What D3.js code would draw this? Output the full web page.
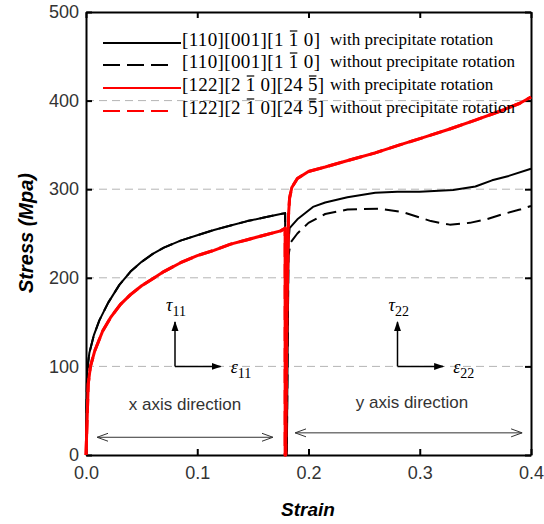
<!DOCTYPE html>
<html>
<head>
<meta charset="utf-8">
<script src="https://cdn.jsdelivr.net/npm/d3@7"></script>
<style>
  body { margin: 0; background: #fff; }
  text { font-family: "Liberation Sans", Arial, sans-serif; }
</style>
</head>
<body>
<svg width="544" height="524"></svg>
<script>
// tick values
const xTicks = [0, 0.1, 0.2, 0.3, 0.4];
const yTicks = [0, 100, 200, 300, 400, 500];
const gridValues = [100, 200, 300, 400];

// [strain, stress]
const black_with = [[0,0],[0.0005,60],[0.001,95],[0.003,115],[0.007,135],[0.012,152],[0.02,172],[0.03,192],[0.04,207],
  [0.05,218],[0.06,227],[0.07,234],[0.085,242],[0.1,248],[0.115,254],[0.13,259],[0.145,264],[0.16,268],[0.175,272],
  [0.179,273],[0.179,0],[0.1805,0],[0.182,240],[0.183,256],[0.19,266],[0.2,276],[0.204,280],[0.215,285],[0.235,291],
  [0.26,296],[0.28,297],[0.3,297],[0.33,299],[0.35,303],[0.365,310],[0.38,315],[0.4,323]];
const black_without = [[0,0],[0.0005,60],[0.001,95],[0.003,115],[0.007,135],[0.012,152],[0.02,172],[0.03,192],[0.04,207],
  [0.05,218],[0.06,227],[0.07,234],[0.085,242],[0.1,248],[0.115,254],[0.13,259],[0.145,264],[0.16,268],[0.175,272],
  [0.179,273],[0.179,0],[0.1805,0],[0.182,225],[0.184,240],[0.19,250],[0.2,262],[0.215,272],[0.235,277],[0.264,278],
  [0.285,274],[0.3,268],[0.31,264],[0.327,260],[0.345,262],[0.36,266],[0.375,272],[0.39,277],[0.4,281]];
const red_with = [[0,0],[0.001,40],[0.002,80],[0.004,100],[0.008,118],[0.015,140],[0.022,155],[0.031,170],[0.04,181],
  [0.05,191],[0.06,199],[0.07,207],[0.085,217],[0.1,225],[0.115,231],[0.13,238],[0.145,243],[0.16,248],[0.175,253],
  [0.179,256],[0.179,0],[0.1795,0],[0.1805,150],[0.182,270],[0.183,290],[0.185,302],[0.19,312],[0.2,320],[0.215,325],
  [0.237,333],[0.26,341],[0.282,350],[0.305,359],[0.327,368],[0.35,378],[0.372,388],[0.39,397],[0.4,404]];
const red_without = [[0,0],[0.001,40],[0.002,80],[0.004,100],[0.008,118],[0.015,140],[0.022,155],[0.031,170],[0.04,181],
  [0.05,191],[0.06,199],[0.07,207],[0.085,217],[0.1,225],[0.115,231],[0.13,238],[0.145,243],[0.16,248],[0.175,253],
  [0.179,256],[0.179,0],[0.1795,0],[0.1805,150],[0.182,270],[0.183,290],[0.185,302],[0.19,312],[0.2,320],[0.215,325],
  [0.237,333],[0.26,341],[0.282,350],[0.305,359],[0.327,368],[0.35,378],[0.372,388],[0.39,397],[0.4,404]];

// legend
const legendKeys = ["[110][001][1 1 0]", "[110][001][1 1 0]", "[122][2 1 0][24 5]", "[122][2 1 0][24 5]"];
const legendBars = [[13], [13], [8, 16], [8, 16]];   // chars with an overbar
const legendDesc = ["with precipitate rotation", "without precipitate rotation",
                    "with precipitate rotation", "without precipitate rotation"];

const svg = d3.select("svg");
const x = d3.scaleLinear().domain([0, 0.4]).range([86, 531]);
const y = d3.scaleLinear().domain([0, 500]).range([455, 12]);

// markers
const defs = svg.append("defs");
defs.append("marker").attr("id", "headFill")
  .attr("viewBox", "0 0 10 10").attr("refX", 9).attr("refY", 5)
  .attr("markerWidth", 10).attr("markerHeight", 10).attr("markerUnits", "userSpaceOnUse")
  .attr("orient", "auto")
  .append("path").attr("d", "M0,1.5L10,5L0,8.5Z").attr("fill", "#000");
defs.append("marker").attr("id", "headOpen")
  .attr("viewBox", "0 0 12 10").attr("refX", 11).attr("refY", 5)
  .attr("markerWidth", 12).attr("markerHeight", 10).attr("markerUnits", "userSpaceOnUse")
  .attr("orient", "auto-start-reverse")
  .append("path").attr("d", "M0,1L11,5L0,9").attr("fill", "none").attr("stroke", "#333").attr("stroke-width", 1);

// grid
svg.selectAll(".grid").data(gridValues).join("line")
  .attr("class", "grid")
  .attr("x1", x(0)).attr("x2", x(0.4))
  .attr("y1", d => y(d)).attr("y2", d => y(d))
  .attr("stroke", "#b4b4b4").attr("stroke-width", 1)
  .attr("stroke-dasharray", "8,5");

// axes
function styleAxis(g) {
  g.select(".domain").attr("stroke", "#000").attr("stroke-width", 2);
  g.selectAll(".tick line").attr("stroke", "#000").attr("stroke-width", 2);
  g.selectAll(".tick text").attr("fill", "#333").style("font-size", "18px")
    .style("font-family", "'Liberation Sans', Arial, sans-serif");
}
svg.append("g").attr("transform", `translate(0,${y(0)})`)
  .call(d3.axisBottom(x).tickValues(xTicks).tickFormat(d3.format(".1f"))
    .tickSizeInner(-6).tickSizeOuter(0).tickPadding(11))
  .call(styleAxis);
svg.append("g").attr("transform", `translate(0,${y(500)})`)
  .call(d3.axisTop(x).tickValues(xTicks).tickFormat("").tickSizeInner(-6).tickSizeOuter(0))
  .call(styleAxis);
svg.append("g").attr("transform", `translate(${x(0)},0)`)
  .call(d3.axisLeft(y).tickValues(yTicks).tickSizeInner(-6).tickSizeOuter(0).tickPadding(7))
  .call(styleAxis);
svg.append("g").attr("transform", `translate(${x(0.4)},0)`)
  .call(d3.axisRight(y).tickValues(yTicks).tickFormat("").tickSizeInner(-6).tickSizeOuter(0))
  .call(styleAxis);

// curves
const line = d3.line().x(d => x(d[0])).y(d => y(d[1]));
const series = [
  {data: black_without, color: "#000", dash: "14,7", w: 2},
  {data: black_with, color: "#000", dash: null, w: 2},
  {data: red_without, color: "#f00", dash: "14,7", w: 3},
  {data: red_with, color: "#f00", dash: null, w: 3}
];
series.forEach(s => {
  svg.append("path").datum(s.data)
    .attr("d", line)
    .attr("fill", "none")
    .attr("stroke", s.color)
    .attr("stroke-width", s.w)
    .attr("stroke-linejoin", "round")
    .attr("stroke-dasharray", s.dash);
});

// stress / strain direction arrows
function tauEps(sx, lab) {
  svg.append("line")
    .attr("x1", x(sx)).attr("y1", y(100)).attr("x2", x(sx)).attr("y2", y(150))
    .attr("stroke", "#000").attr("stroke-width", 1.5).attr("marker-end", "url(#headFill)");
  svg.append("line")
    .attr("x1", x(sx)).attr("y1", y(100)).attr("x2", x(sx + 0.041)).attr("y2", y(100))
    .attr("stroke", "#000").attr("stroke-width", 1.5).attr("marker-end", "url(#headFill)");
  const t = svg.append("text").attr("x", x(sx) - 9).attr("y", y(163))
    .style("font-family", "'Liberation Serif', 'Times New Roman', serif").style("font-size", "18px");
  t.append("tspan").text("τ").style("font-style", "italic");
  t.append("tspan").text(lab).attr("dy", 5).style("font-size", "14px");
  const e = svg.append("text").attr("x", x(sx + 0.05)).attr("y", y(93))
    .style("font-family", "'Liberation Serif', 'Times New Roman', serif").style("font-size", "18px");
  e.append("tspan").text("ε").style("font-style", "italic");
  e.append("tspan").text(lab).attr("dy", 5).style("font-size", "14px");
}
tauEps(0.08, "11");
tauEps(0.28, "22");

svg.append("text").attr("x", x(0.089)).attr("y", y(51)).attr("text-anchor", "middle")
  .attr("fill", "#333").style("font-size", "17px").text("x axis direction");
svg.append("text").attr("x", x(0.293)).attr("y", y(53)).attr("text-anchor", "middle")
  .attr("fill", "#333").style("font-size", "17px").text("y axis direction");

svg.append("line").attr("x1", x(0.01)).attr("x2", x(0.168)).attr("y1", y(20)).attr("y2", y(20))
  .attr("stroke", "#333").attr("stroke-width", 1)
  .attr("marker-start", "url(#headOpen)").attr("marker-end", "url(#headOpen)");
svg.append("line").attr("x1", x(0.188)).attr("x2", x(0.392)).attr("y1", y(25)).attr("y2", y(25))
  .attr("stroke", "#333").attr("stroke-width", 1)
  .attr("marker-start", "url(#headOpen)").attr("marker-end", "url(#headOpen)");

// axis titles
svg.append("text").attr("transform", "translate(33,233) rotate(-90)")
  .attr("text-anchor", "middle").style("font-size", "20px")
  .style("font-weight", "bold").style("font-style", "italic").text("Stress (Mpa)");
svg.append("text").attr("x", 308).attr("y", 516)
  .attr("text-anchor", "middle").style("font-size", "19px")
  .style("font-weight", "bold").style("font-style", "italic").text("Strain");

// legend
const legRowY = [43, 65, 88, 111];
const legKeyLen = [138, 138, 142, 142];
legendKeys.forEach((k, i) => {
  const ly = legRowY[i];
  const col = i < 2 ? "#000" : "#f00";
  svg.append("line").attr("x1", 103).attr("x2", i % 2 ? 172 : 181)
    .attr("y1", ly).attr("y2", ly)
    .attr("stroke", col).attr("stroke-width", 2)
    .attr("stroke-dasharray", i % 2 ? "17,7" : null);
  const t = svg.append("text").attr("x", 182).attr("y", ly + 3)
    .attr("textLength", legKeyLen[i]).attr("lengthAdjust", "spacing")
    .style("font-family", "'Liberation Serif', 'Times New Roman', serif")
    .style("font-size", "19px").text(k);
  const node = t.node();
  legendBars[i].forEach(ci => {
    const b = node.getExtentOfChar(ci);
    svg.append("line").attr("x1", b.x + 1).attr("x2", b.x + b.width - 1)
      .attr("y1", b.y + 2).attr("y2", b.y + 2)
      .attr("stroke", "#000").attr("stroke-width", 1.2);
  });
  svg.append("text").attr("x", 330).attr("y", ly + 2)
    .style("font-family", "'Liberation Serif', 'Times New Roman', serif")
    .style("font-size", "17px").text(legendDesc[i]);
});
</script>
</body>
</html>
